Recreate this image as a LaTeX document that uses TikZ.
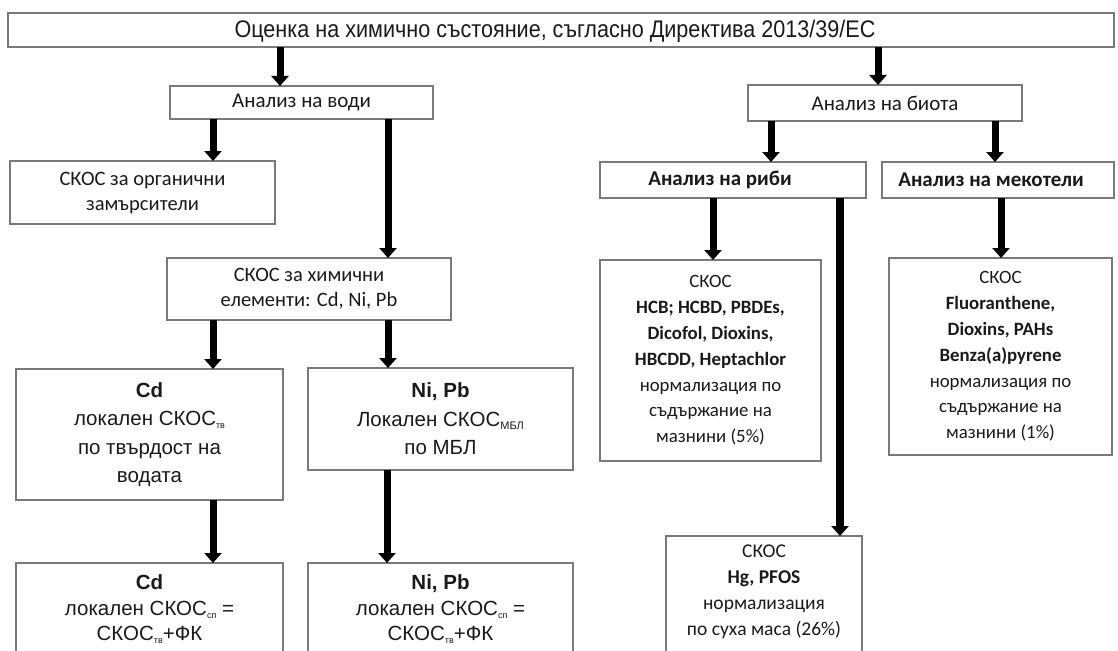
\documentclass[tikz,border=0pt]{standalone}
\usepackage{fontspec}
\usepackage{graphicx}
\setmainfont{Carlito}
\newfontfamily\arialf{Liberation Sans}
\usetikzlibrary{arrows.meta,calc}
\definecolor{boxgray}{HTML}{7A7A7A}
\definecolor{txt}{HTML}{1A1A1A}
\begin{document}
\begin{tikzpicture}[x=1pt,y=-1pt,
  box/.style={draw=boxgray, line width=1.4pt, inner sep=0pt, outer sep=0pt, align=center, text=txt},
  arr/.style={line width=7pt, -{Triangle[width=17pt,length=10pt]}},
  cal/.style={font=\fontsize{18.8}{25.8}\selectfont},
  calb/.style={font=\fontsize{21}{25}\selectfont},
  calm/.style={font=\fontsize{20.5}{25}\selectfont},
  ari/.style={font=\arialf\fontsize{20.5}{28.5}\selectfont},
  txtnode/.style={inner sep=0pt, outer sep=0pt, align=center, text=txt, anchor=north}
]
\useasboundingbox (0,0) rectangle (1118,650);
\clip (0,0) rectangle (1118,650);

% top
\node[box, minimum width=1106, minimum height=34] (top) at (561,30) {};
\node[txtnode, anchor=center, font=\arialf\fontsize{24}{26}\selectfont] (toptext) at (555,31)
  {\scalebox{0.9}[1]{Оценка на химично състояние, съгласно Директива 2013/39/ЕС}};

% level 2
\node[box, calb, minimum width=263, minimum height=33] (water) at (301.5,102.5) {Анализ на води};
\node[box, calb, minimum width=274, minimum height=36] (biota) at (885,103) {Анализ на биота};

% water branch
\node[box, calm, minimum width=265, minimum height=63] (org) at (142.5,192.5) {СКОС за органични\\замърсители};
\node[box, calm, minimum width=284, minimum height=62] (chem) at (309,289) {СКОС за химични\\елементи: Cd, Ni, Pb};

\node[box, ari, minimum width=267, minimum height=131] (cd) at (149.5,434.5)
  {\textbf{Cd}\\локален СКОС{\fontsize{9}{10}\selectfont\raisebox{-3pt}{тв}}\\по твърдост на\\водата};
\node[box, ari, minimum width=265, minimum height=102] (nipb) at (440.5,419)
  {\textbf{Ni, Pb}\\Локален СКОС{\fontsize{11}{12}\selectfont\raisebox{-3pt}{МБЛ}}\\по МБЛ};

\node[box, minimum width=267, minimum height=120, anchor=north west] (cd2) at (16,563) {};
\node[txtnode, font=\arialf\fontsize{20.5}{25.5}\selectfont] (cd2t) at ($(cd2.north)+(0,12)$)
  {\textbf{Cd}\\локален СКОС{\fontsize{9}{10}\selectfont\raisebox{-3pt}{сп}} =\\СКОС{\fontsize{9}{10}\selectfont\raisebox{-3pt}{тв}}+ФК};
\node[box, minimum width=265, minimum height=120, anchor=north west] (ni2) at (308,563) {};
\node[txtnode, font=\arialf\fontsize{20.5}{25.5}\selectfont] (ni2t) at ($(ni2.north)+(0,12)$)
  {\textbf{Ni, Pb}\\локален СКОС{\fontsize{9}{10}\selectfont\raisebox{-3pt}{сп}} =\\СКОС{\fontsize{9}{10}\selectfont\raisebox{-3pt}{тв}}+ФК};

% biota branch
\node[box, calb, minimum width=266, minimum height=36] (fish) at (733,180) {\textbf{Анализ на риби}\hspace*{26pt}};
\node[box, calb, minimum width=232, minimum height=36] (moll) at (998,180) {\textbf{Анализ на мекотели}\hspace*{14pt}};

\node[box, cal, minimum width=221, minimum height=201] (fishs) at (710.5,360.5)
  {СКОС\\\textbf{HCB; HCBD, PBDEs,}\\\textbf{Dicofol, Dioxins,}\\\textbf{HBCDD, Heptachlor}\\нормализация по\\съдържание на\\мазнини (5\%)};
\node[box, cal, minimum width=223, minimum height=197] (molls) at (1000.5,356.5)
  {СКОС\\\textbf{Fluoranthene,}\\\textbf{Dioxins, PAHs}\\\textbf{Benza(a)pyrene}\\нормализация по\\съдържание на\\мазнини (1\%)};

\node[box, minimum width=196, minimum height=130, anchor=north west] (hg) at (666,536) {};
\node[txtnode, font=\fontsize{19.5}{26}\selectfont] (hgt) at ($(hg.north)+(0,9)$)
  {СКОС\\\textbf{Hg, PFOS}\\нормализация\\по суха маса (26\%)};

% arrows
\draw[arr] (top.south -| 280,0) -- (water.north -| 280,0);
\draw[arr] (top.south -| 878,0) -- (biota.north -| 878,0);
\draw[arr] (water.south -| 213,0) -- (org.north -| 213,0);
\draw[arr] (water.south -| 388,0) -- (chem.north -| 388,0);
\draw[arr] (chem.south -| 213,0) -- (cd.north -| 213,0);
\draw[arr] (chem.south -| 388,0) -- (nipb.north -| 388,0);
\draw[arr] (cd.south -| 213,0) -- (cd2.north -| 213,0);
\draw[arr] (nipb.south -| 387,0) -- (ni2.north -| 387,0);
\draw[arr] (biota.south -| 771,0) -- (fish.north -| 771,0);
\draw[arr] (biota.south -| 995,0) -- (moll.north -| 995,0);
\draw[arr] (fish.south -| 713,0) -- (fishs.north -| 713,0);
\draw[arr, line width=8pt] (fish.south -| 840,0) -- (hg.north -| 840,0);
\draw[arr] (moll.south -| 1001,0) -- (molls.north -| 1001,0);
\end{tikzpicture}
\end{document}
